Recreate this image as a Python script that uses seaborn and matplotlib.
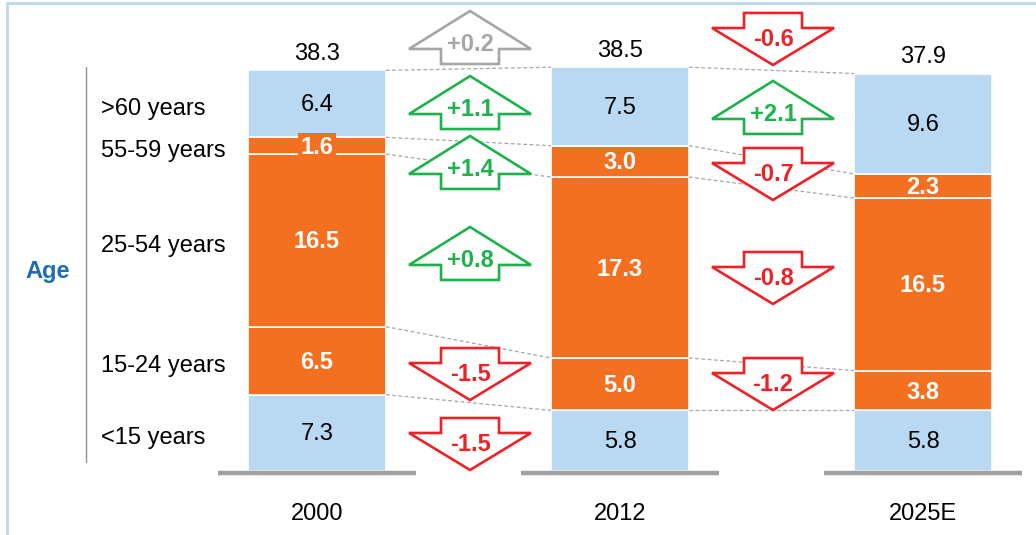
import numpy as np
import pandas as pd
import matplotlib
matplotlib.use("Agg")
import matplotlib.pyplot as plt
from matplotlib.patches import Polygon
from matplotlib.lines import Line2D
import seaborn as sns

# ---- data -----------------------------------------------------------------
years = ["2000", "2012", "2025E"]
age_groups = ["<15 years", "15-24 years", "25-54 years", "55-59 years", ">60 years"]
under_15 = [7.3, 5.8, 5.8]
age_15_24 = [6.5, 5.0, 3.8]
age_25_54 = [16.5, 17.3, 16.5]
age_55_59 = [1.6, 3.0, 2.3]
over_60 = [6.4, 7.5, 9.6]
totals = [38.3, 38.5, 37.9]

# ---- styling --------------------------------------------------------------
sns.set_theme(style="white")
plt.rcParams["font.family"] = ["Liberation Sans", "DejaVu Sans"]

BLUE = "#B9D8F1"
ORANGE = "#F37021"
GREEN = "#1EB14C"
RED = "#EE2127"
GREY_ARROW = "#A6A6A6"
FS = 17

segments = [under_15, age_15_24, age_25_54, age_55_59, over_60]
seg_colors = [BLUE, ORANGE, ORANGE, ORANGE, BLUE]

W, H, DPI = 1036, 535, 100
fig = plt.figure(figsize=(W / DPI, H / DPI), dpi=DPI)
ax = fig.add_axes([0, 0, 1, 1])

# data units per pixel (the axes fill the figure)
PX_X = 303.0      # pixels per category step
PX_Y = 10.46      # pixels per value unit
x_left = -317 / PX_X
x_right = (W - 317) / PX_X
y_bottom = -(H - 471) / PX_Y
y_top = 471 / PX_Y

bar_w = 0.455

# ---- stacked bars ---------------------------------------------------------
bottom = np.zeros(len(years))
cum = [np.zeros(len(years))]
for name, vals, col in zip(age_groups, segments, seg_colors):
    df = pd.DataFrame({"year": years, "value": vals})
    sns.barplot(data=df, x="year", y="value", order=years, color=col,
                saturation=1, width=bar_w, bottom=bottom.copy(),
                edgecolor="white", linewidth=1.2, errorbar=None, ax=ax)
    bottom = bottom + np.array(vals)
    cum.append(bottom.copy())

ax.set_xlim(x_left, x_right)
ax.set_ylim(y_bottom, y_top)
ax.axis("off")

# segment labels
for k, (vals, col) in enumerate(zip(segments, seg_colors)):
    for i, v in enumerate(vals):
        yc = cum[k][i] + v / 2 - 0.15
        if col == BLUE:
            ax.text(i, yc, f"{v:.1f}", ha="center", va="center",
                    fontsize=FS, color="black")
        else:
            bbox = None
            if v < 2.0:
                bbox = dict(boxstyle="square,pad=0.12", fc=ORANGE, ec="none")
            ax.text(i, yc, f"{v:.1f}", ha="center", va="center",
                    fontsize=FS, color="white", fontweight="bold", bbox=bbox)

# totals above the bars and year labels below
for i, t in enumerate(totals):
    ax.text(i, cum[-1][i] + 1.6, f"{t:.1f}", ha="center", va="center",
            fontsize=FS, color="black")
    ax.text(i, -4.15, years[i], ha="center", va="center",
            fontsize=FS, color="black")

# grey base under each bar
base_half = bar_w / 2 + 30 / PX_X
for i in range(len(years)):
    ax.plot([i - base_half, i + base_half], [-0.2, -0.2], color="#A0A0A0",
            lw=3.2, solid_capstyle="butt")

# dashed connectors between matching segment boundaries
for i in range(len(years) - 1):
    for k in range(1, len(cum)):
        ax.plot([i + bar_w / 2, i + 1 - bar_w / 2], [cum[k][i], cum[k][i + 1]],
                color="#A6A6A6", lw=0.9, ls=(0, (3, 2)), zorder=1)

# ---- change arrows --------------------------------------------------------
seg_matrix = np.array(segments)
changes_total = np.diff(totals)
changes_seg = np.diff(seg_matrix, axis=1)

# vertical placement of arrow labels (value units), top to bottom
arrow_rows = [
    [40.92, 34.70, 28.97, 20.27, 9.37, 2.68],
    [41.40, 34.23, 28.49, 18.55, 8.41, 2.68],
]


def draw_arrow(xc, yc, delta, color):
    """Outlined block arrow with its value written inside."""
    hw, sw = 61 / PX_X, 29 / PX_X
    if delta > 0:
        tip, base, end = yc + 32 / PX_Y, yc - 6 / PX_Y, yc - 21 / PX_Y
    else:
        tip, base, end = yc - 27 / PX_Y, yc + 10 / PX_Y, yc + 25 / PX_Y
    pts = [(xc, tip), (xc + hw, base), (xc + sw, base), (xc + sw, end),
           (xc - sw, end), (xc - sw, base), (xc - hw, base)]
    ax.add_patch(Polygon(pts, closed=True, fill=True, fc="white", ec=color,
                         lw=1.9, joinstyle="miter", zorder=3))
    ax.text(xc, yc - 0.15, f"{delta:+.1f}", ha="center", va="center",
            fontsize=FS, fontweight="bold", color=color, zorder=4)


for i in range(len(years) - 1):
    col_changes = [changes_total[i]] + [changes_seg[k, i] for k in range(4, -1, -1)]
    for yc, d in zip(arrow_rows[i], col_changes):
        d = round(float(d), 1)
        if d == 0:
            continue
        if abs(d) < 0.3:
            color = GREY_ARROW
        elif d > 0:
            color = GREEN
        else:
            color = RED
        draw_arrow(i + 0.505, yc, d, color)

# ---- age axis on the left -------------------------------------------------
label_x = (101 - 317) / PX_X
for k, name in enumerate(age_groups):
    yc = cum[k][0] + segments[k][0] / 2 - 0.5
    ax.text(label_x, yc, name, ha="left", va="center", fontsize=FS,
            color="black")
line_x = (86 - 317) / PX_X
ax.plot([line_x, line_x], [0.85, 38.6], color="#909090", lw=1.0)
ax.text((48 - 317) / PX_X, 19.1, "Age", ha="center", va="center",
        fontsize=FS, fontweight="bold", color="#1F6DB5")

# light frame along the top and left edges
fig.add_artist(Line2D([7 / W, 7 / W], [0, 1 - 3 / H], transform=fig.transFigure,
                      color="#BDD7EE", lw=2))
fig.add_artist(Line2D([7 / W, 1], [1 - 3 / H, 1 - 3 / H], transform=fig.transFigure,
                      color="#BDD7EE", lw=2))

fig.savefig("out.png", dpi=DPI)
